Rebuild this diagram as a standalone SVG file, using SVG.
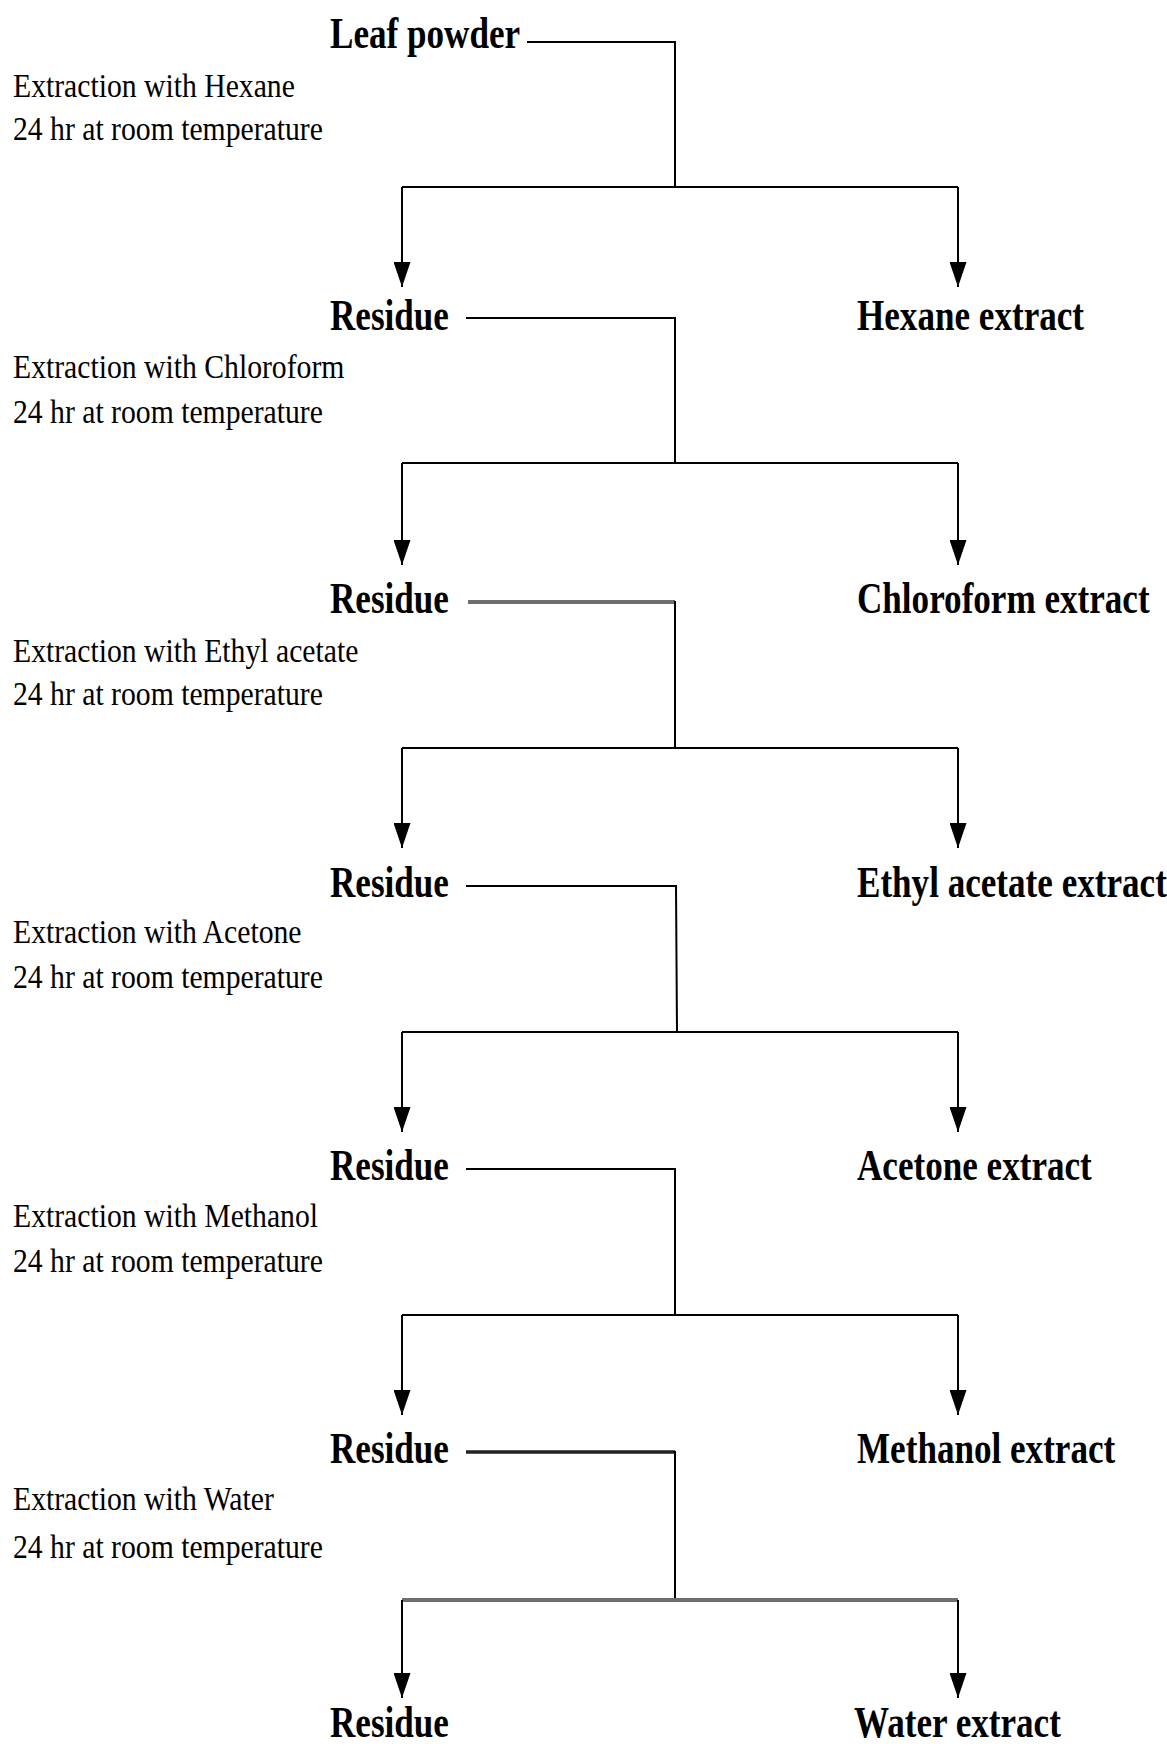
<svg xmlns="http://www.w3.org/2000/svg" width="1167" height="1748" viewBox="0 0 1167 1748">
<style>
.b{font-family:"Liberation Serif","Times New Roman",serif;font-weight:bold;font-size:45px;fill:#000}
.n{font-family:"Liberation Serif","Times New Roman",serif;font-size:33px;fill:#000}
.c{fill:none;stroke:#000;stroke-width:2}
.g{fill:none;stroke:#6e6e6e;stroke-width:4}
.d{fill:none;stroke:#222;stroke-width:3.5}
</style>
<defs>
<marker id="ah" markerUnits="userSpaceOnUse" viewBox="0 0 25 17" refX="25" refY="8.5" markerWidth="25" markerHeight="17" orient="auto">
<path d="M0,0 L25,8.5 L0,17 z" fill="#000"/>
</marker>
</defs>
<rect width="1167" height="1748" fill="#fff"/>
<g id="connectors">
<path class="c" d="M527,42 H675 V187"/>
<path class="c" d="M402,187 H958"/>
<path class="c" d="M402,187 V287" marker-end="url(#ah)"/>
<path class="c" d="M958,187 V287" marker-end="url(#ah)"/>
<path class="c" d="M466,318 H675 V463"/>
<path class="c" d="M402,463 H958"/>
<path class="c" d="M402,463 V565" marker-end="url(#ah)"/>
<path class="c" d="M958,463 V565" marker-end="url(#ah)"/>
<path class="g" d="M468,602 H675"/>
<path class="c" d="M675,601 V748"/>
<path class="c" d="M402,748 H958"/>
<path class="c" d="M402,748 V848" marker-end="url(#ah)"/>
<path class="c" d="M958,748 V848" marker-end="url(#ah)"/>
<path class="c" d="M466,886 H676 L677,1032"/>
<path class="c" d="M402,1032 H958"/>
<path class="c" d="M402,1032 V1132" marker-end="url(#ah)"/>
<path class="c" d="M958,1032 V1132" marker-end="url(#ah)"/>
<path class="c" d="M466,1169 H675 V1315"/>
<path class="c" d="M402,1315 H958"/>
<path class="c" d="M402,1315 V1415" marker-end="url(#ah)"/>
<path class="c" d="M958,1315 V1415" marker-end="url(#ah)"/>
<path class="d" d="M466,1452 H675"/>
<path class="c" d="M675,1451 V1600"/>
<path class="g" d="M402,1600 H958"/>
<path class="c" d="M402,1600 V1698" marker-end="url(#ah)"/>
<path class="c" d="M958,1600 V1698" marker-end="url(#ah)"/>
</g>
<g id="leaf-powder"><text class="b" transform="translate(330,48) scale(0.78,1)">Leaf powder</text></g>
<g id="step-hexane">
<text class="n" transform="translate(13,97) scale(0.9,1)">Extraction with Hexane</text>
<text class="n" transform="translate(13,140) scale(0.9,1)">24 hr at room temperature</text>
</g>
<g id="residue-1"><text class="b" transform="translate(330,330) scale(0.78,1)">Residue</text></g>
<g id="hexane-extract"><text class="b" transform="translate(857,330) scale(0.78,1)">Hexane extract</text></g>
<g id="step-chloroform">
<text class="n" transform="translate(13,378) scale(0.9,1)">Extraction with Chloroform</text>
<text class="n" transform="translate(13,423) scale(0.9,1)">24 hr at room temperature</text>
</g>
<g id="residue-2"><text class="b" transform="translate(330,613) scale(0.78,1)">Residue</text></g>
<g id="chloroform-extract"><text class="b" transform="translate(857,613) scale(0.78,1)">Chloroform extract</text></g>
<g id="step-ethyl">
<text class="n" transform="translate(13,662) scale(0.9,1)">Extraction with Ethyl acetate</text>
<text class="n" transform="translate(13,705) scale(0.9,1)">24 hr at room temperature</text>
</g>
<g id="residue-3"><text class="b" transform="translate(330,897) scale(0.78,1)">Residue</text></g>
<g id="ethyl-acetate-extract"><text class="b" transform="translate(857,897) scale(0.78,1)">Ethyl acetate extract</text></g>
<g id="step-acetone">
<text class="n" transform="translate(13,943) scale(0.9,1)">Extraction with Acetone</text>
<text class="n" transform="translate(13,988) scale(0.9,1)">24 hr at room temperature</text>
</g>
<g id="residue-4"><text class="b" transform="translate(330,1180) scale(0.78,1)">Residue</text></g>
<g id="acetone-extract"><text class="b" transform="translate(857,1180) scale(0.78,1)">Acetone extract</text></g>
<g id="step-methanol">
<text class="n" transform="translate(13,1227) scale(0.9,1)">Extraction with Methanol</text>
<text class="n" transform="translate(13,1272) scale(0.9,1)">24 hr at room temperature</text>
</g>
<g id="residue-5"><text class="b" transform="translate(330,1463) scale(0.78,1)">Residue</text></g>
<g id="methanol-extract"><text class="b" transform="translate(857,1463) scale(0.78,1)">Methanol extract</text></g>
<g id="step-water">
<text class="n" transform="translate(13,1510) scale(0.9,1)">Extraction with Water</text>
<text class="n" transform="translate(13,1558) scale(0.9,1)">24 hr at room temperature</text>
</g>
<g id="residue-6"><text class="b" transform="translate(330,1737) scale(0.78,1)">Residue</text></g>
<g id="water-extract"><text class="b" transform="translate(854,1737) scale(0.78,1)">Water extract</text></g>
</svg>
